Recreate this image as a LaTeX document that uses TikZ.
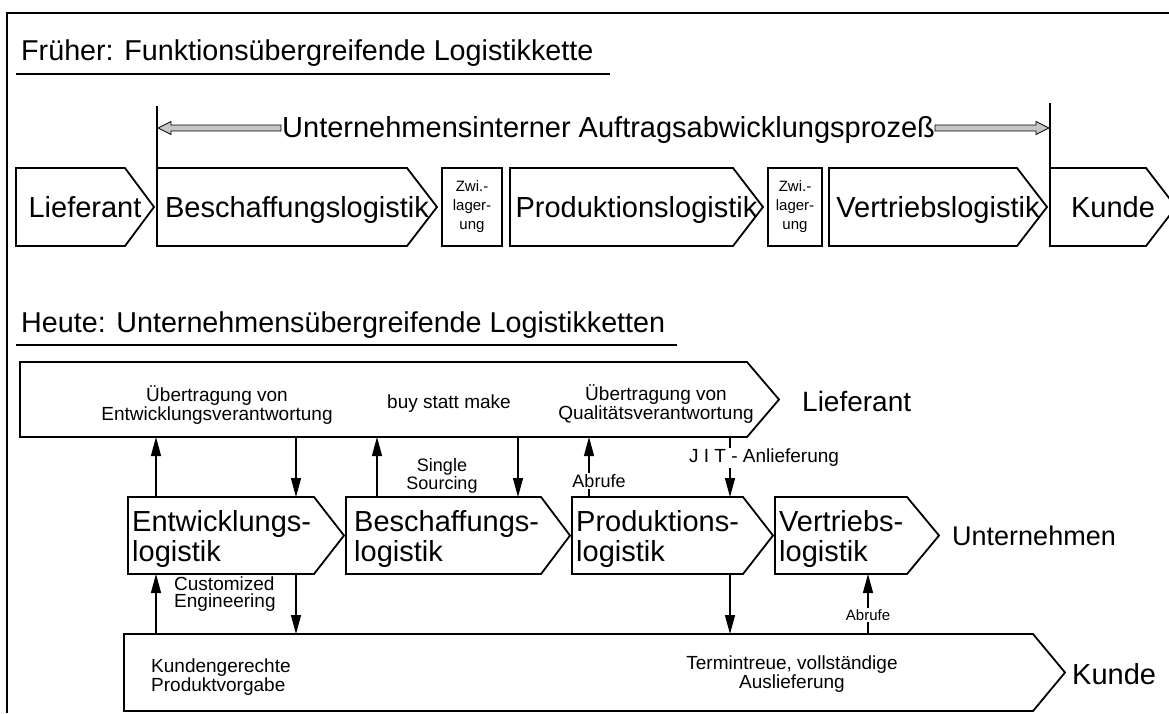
\documentclass[tikz,border=0pt]{standalone}
\usepackage{fontspec}
\setmainfont{Liberation Sans}
\usetikzlibrary{arrows.meta,calc}
\newcommand\fsz[2]{\fontsize{#1}{#2}\selectfont}
% #1 name, #2 x left, #3 x tip, #4 y top, #5 y bottom, #6 tip depth, #7 options, #8 text
\newcommand\pentagonbox[8]{%
  \node[shapebox, minimum width={(#3-#2)*1pt}, minimum height={(#5-#4)*1pt}, #7] (#1) at ({(#2+#3)/2},{(#4+#5)/2}) {#8};
  \draw[outline] (#1.north west) -- ([xshift=-#6pt]#1.north east) -- (#1.east) -- ([xshift=-#6pt]#1.south east) -- (#1.south west) -- cycle;}
\begin{document}
\begin{tikzpicture}[x=1pt,y=-1pt,
  outline/.style={draw=black, line width=1.8pt, line join=miter},
  shapebox/.style={draw=none, inner sep=0pt, outer sep=0pt},
  rectbox/.style={draw=black, line width=1.8pt, inner sep=0pt, outer sep=0pt, align=center},
  conn/.style={line width=1.3pt, -{Triangle[length=19pt,width=10pt]}},
  plain/.style={line width=1.3pt},
  frame/.style={line width=1.5pt},
  titletext/.style={font=\fsz{28.7}{30}, inner sep=0pt, anchor=base west},
  big/.style={font=\fsz{29}{30}, inner sep=0pt, text height=21pt, text depth=0pt},
  bigtwo/.style={font=\fsz{29}{30}, inner sep=0pt, align=left, anchor=west},
  side/.style={font=\fsz{28}{30}, inner sep=0pt, anchor=west},
  small/.style={font=\fsz{19}{17}, inner sep=0pt, align=center},
  lbl/.style={fill=white, inner sep=1.5pt},
  hollow/.style={draw=black, line width=0.8pt, fill=gray!45},
]
\useasboundingbox (0,0) rectangle (1169,713);

% frame
\draw[frame] (7,713) -- (7,13) -- (1169,13);

% ---------- Frueher ----------
\node[titletext] (title1) at (21,60) {Früher: Funktionsübergreifende Logistikkette};
\draw[line width=2pt] (16,74) -- (610,74);

\node[font=\fsz{29}{30}, inner sep=0pt, anchor=base west] (proc) at (282,137) {Unternehmensinterner Auftragsabwicklungsprozeß};
\draw[hollow] (281,125) -- (171,125) -- (171,121.5) -- (158,128) -- (171,134.5) -- (171,131) -- (281,131) -- cycle;
\draw[hollow] (935,125) -- (1036,125) -- (1036,121.5) -- (1049,128) -- (1036,134.5) -- (1036,131) -- (935,131) -- cycle;

\pentagonbox{lief1}{16}{154}{168}{246}{29}{big}{Lieferant}
\pentagonbox{besch1}{157}{437}{168}{246}{30}{big}{Beschaffungslogistik}
\node[rectbox, minimum width=60pt, minimum height=78pt, font=\fsz{15}{19}] (zwi1) at (472,207) {Zwi.-\\lager-\\ung};
\pentagonbox{prod1}{510}{763}{168}{246}{30}{big}{Produktionslogistik}
\node[rectbox, minimum width=54pt, minimum height=78pt, font=\fsz{15}{19}] (zwi2) at (795,207) {Zwi.-\\lager-\\ung};
\pentagonbox{vert1}{829}{1047}{168}{246}{30}{big}{Vertriebslogistik}
\pentagonbox{kunde1}{1050}{1176}{168}{246}{30}{big}{Kunde}

\coordinate (lv) at (157,106);
\coordinate (rv) at (1050,103);
\draw[plain] (lv) -- (lv |- besch1.north);
\draw[plain] (rv) -- (rv |- kunde1.north);

% ---------- Heute ----------
\node[titletext] (title2) at (21,332) {Heute: Unternehmensübergreifende Logistikketten};
\draw[line width=2pt] (16,345) -- (677,345);

\pentagonbox{lief2}{20}{779}{362}{437}{32}{}{}
\node[side] (lieflabel) at (802,401) {Lieferant};
\node[small] (t1) at (217,405) {Übertragung von\\Entwicklungsverantwortung};
\node[small] (t2) at (449,404) {buy statt make};
\node[small] (t3) at (656,404) {Übertragung von\\Qualitätsverantwortung};

\pentagonbox{ent}{128}{344}{497}{574}{30}{}{}
\pentagonbox{besch2}{346}{570}{497}{574}{29}{}{}
\pentagonbox{prod2}{572}{773}{497}{574}{30}{}{}
\pentagonbox{vert2}{775}{939}{497}{574}{32}{}{}
\node[bigtwo] (entt) at (132,539) {Entwicklungs-\\logistik};
\node[bigtwo] (bescht) at (354,539) {Beschaffungs-\\logistik};
\node[bigtwo] (prodt) at (576,539) {Produktions-\\logistik};
\node[bigtwo] (vertt) at (779,539) {Vertriebs-\\logistik};
\node[side, font=\fsz{27}{30}] (untlabel) at (952,536) {Unternehmen};

\pentagonbox{kunde2}{124}{1065}{634}{711}{32}{}{}
\node[side, font=\fsz{29}{30}] (kundelabel) at (1072,674) {Kunde};
\node[small, align=left, anchor=west] (t4) at (151,677) {Kundengerechte\\Produktvorgabe};
\node[small] (t5) at (792,674) {Termintreue, vollständige\\Auslieferung};

% connector x positions
\coordinate (xa) at (156,0);
\coordinate (xb) at (296,0);
\coordinate (xc) at (377,0);
\coordinate (xd) at (518,0);
\coordinate (xe) at (589,0);
\coordinate (xf) at (730,0);
\coordinate (xh) at (868,0);

\draw[conn] (xa |- ent.north) -- (xa |- lief2.south);
\draw[conn] (xb |- lief2.south) -- (xb |- ent.north);
\draw[conn] (xc |- besch2.north) -- (xc |- lief2.south);
\draw[conn] (xd |- lief2.south) -- (xd |- besch2.north);
\draw[conn] (xe |- prod2.north) -- (xe |- lief2.south);
\draw[conn] (xf |- lief2.south) -- (xf |- prod2.north);
\draw[conn] (xa |- kunde2.north) -- (xa |- ent.south);
\draw[conn] (xb |- ent.south) -- (xb |- kunde2.north);
\draw[conn] (xf |- prod2.south) -- (xf |- kunde2.north);
\draw[conn] (xh |- kunde2.north) -- (xh |- vert2.south);

\node[small, font=\fsz{18}{16}] (ss) at (442,476) {Single\\Sourcing};
\node[small, lbl, font=\fsz{18}{16}] (abr1) at (599,481) {Abrufe};
\node[small, lbl] (jit) at (764,458) {J I T - Anlieferung};
\node[small, align=left, anchor=west] (ce) at (174,594) {Customized\\Engineering};
\node[small, lbl, font=\fsz{15}{16}] (abr2) at (868,615) {Abrufe};
\end{tikzpicture}
\end{document}
